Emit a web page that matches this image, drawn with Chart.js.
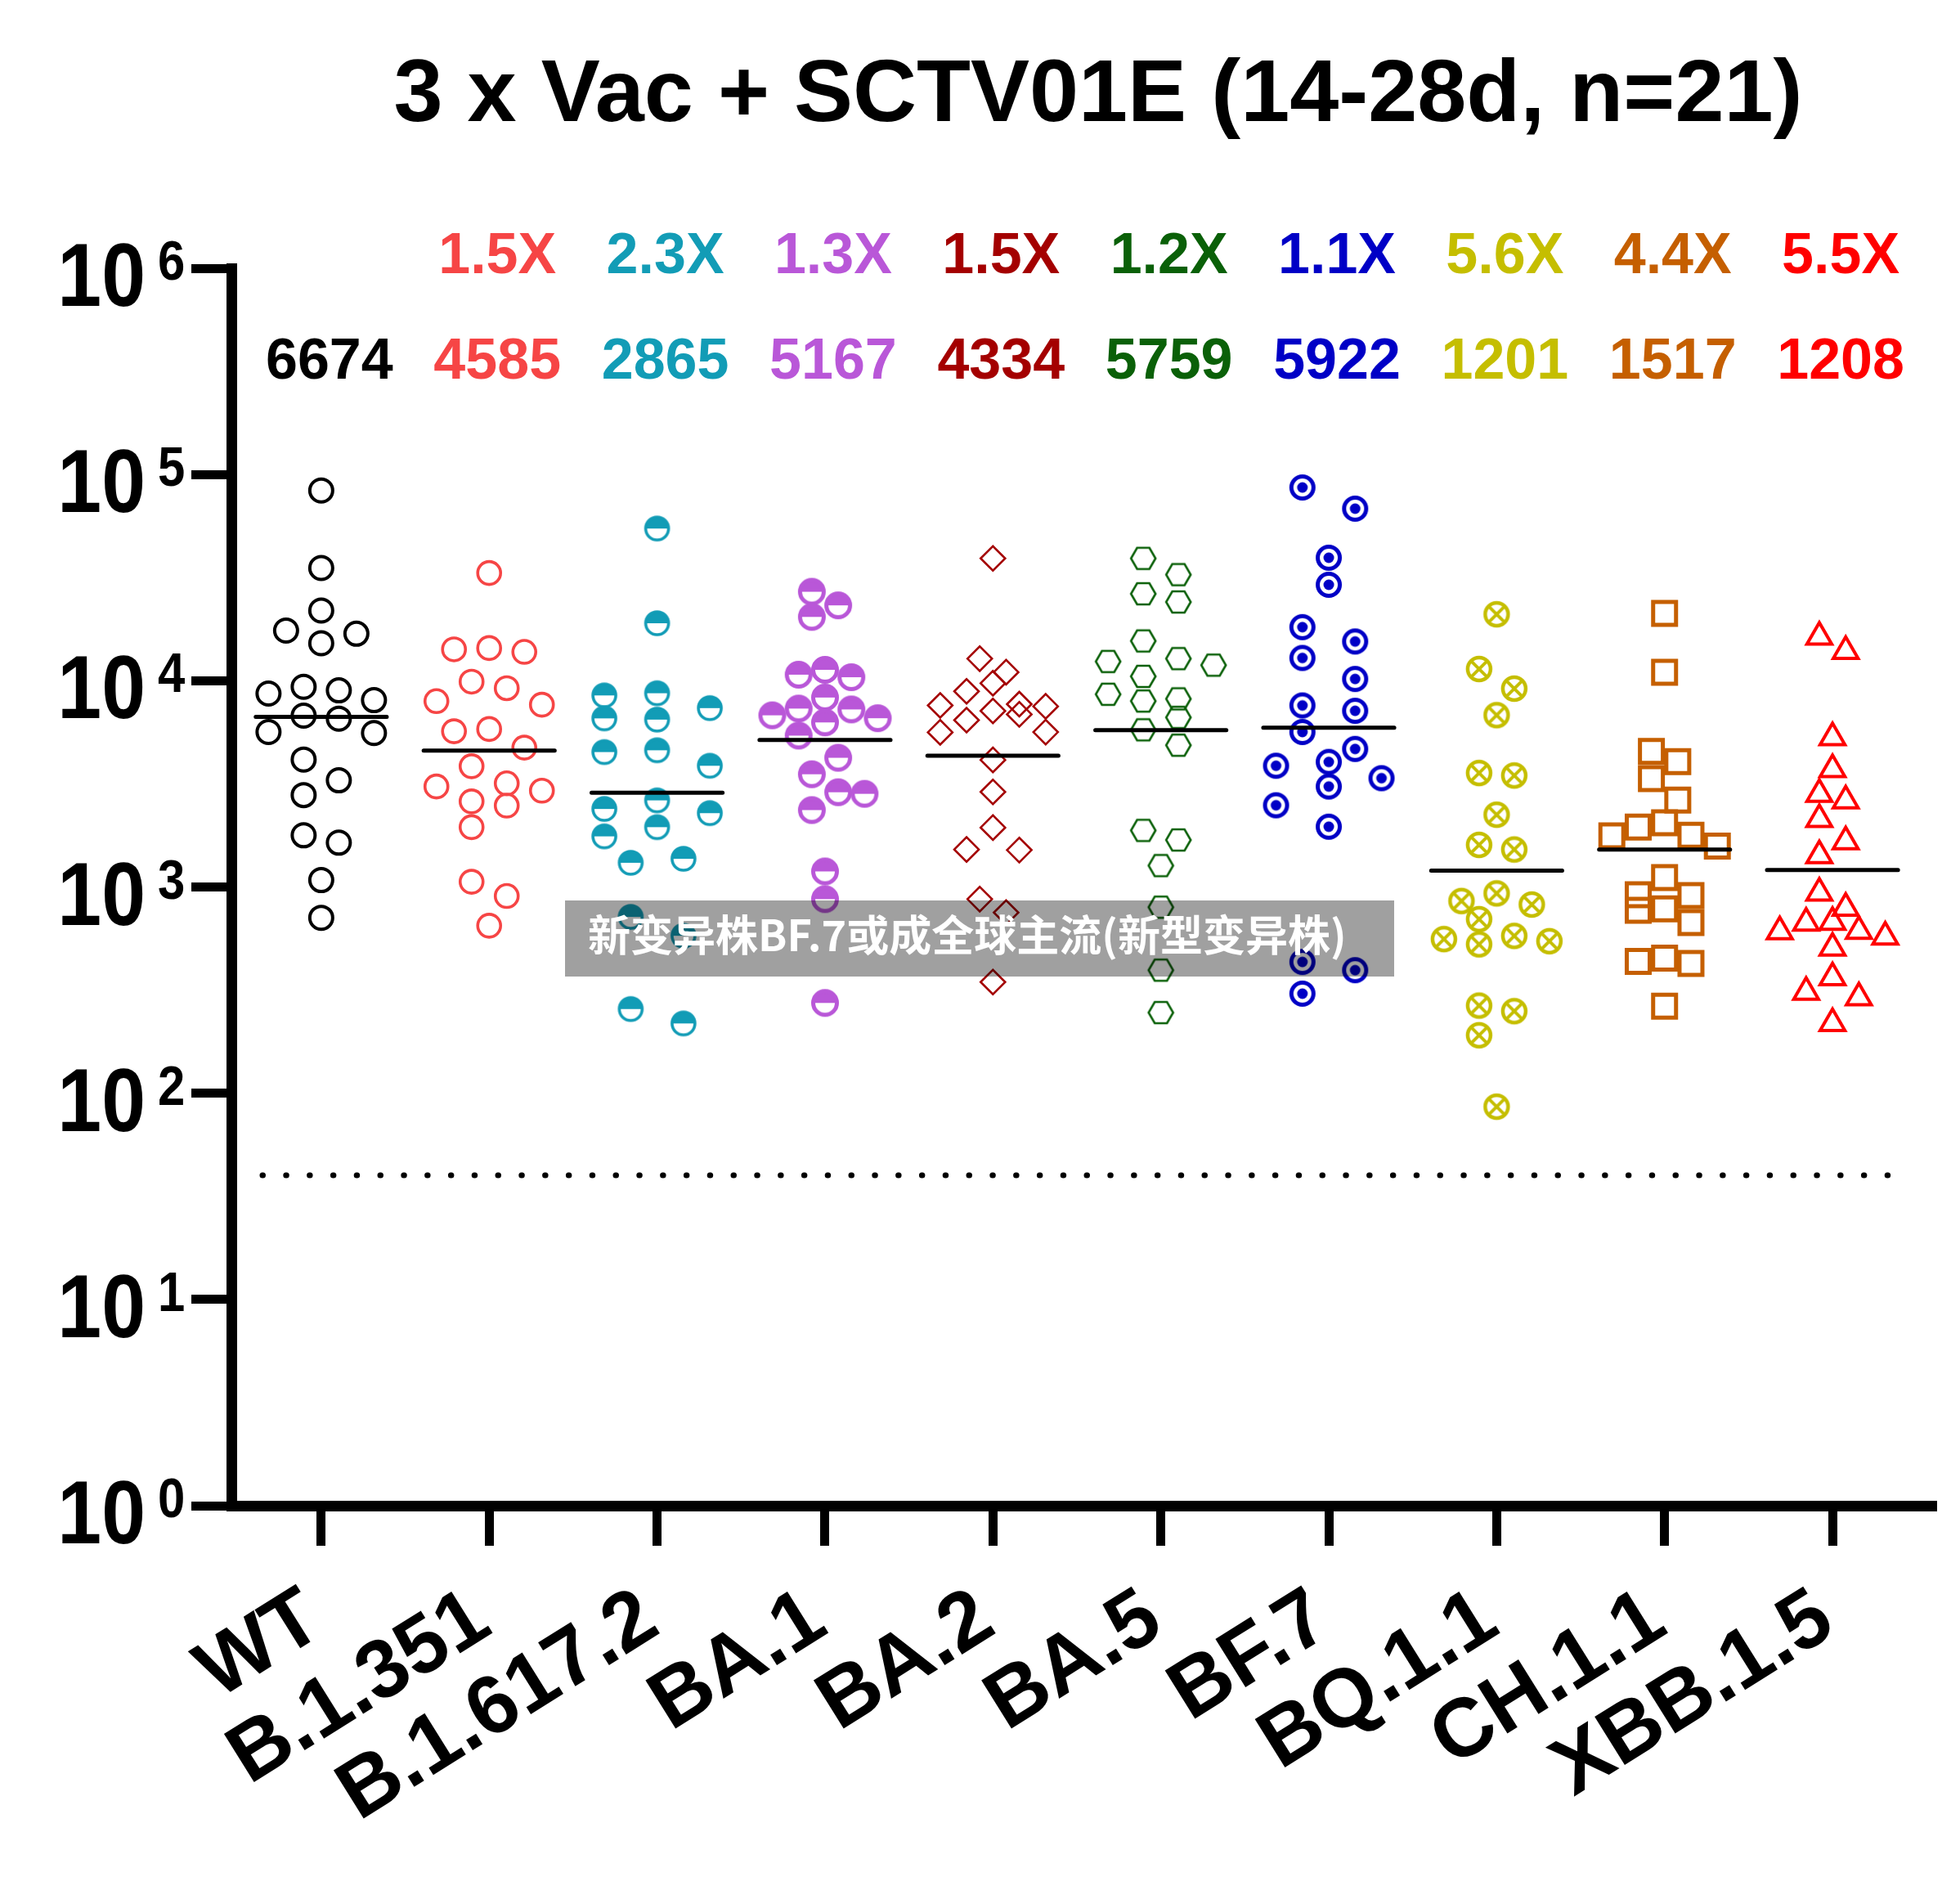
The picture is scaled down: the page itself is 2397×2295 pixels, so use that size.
<!DOCTYPE html>
<html>
<head>
<meta charset="utf-8">
<script src="https://cdn.jsdelivr.net/npm/chart.js@4.4.1/dist/chart.umd.min.js"></script>
<style>html,body{margin:0;padding:0;background:#fff;}canvas{display:block;}</style>
</head>
<body>
<canvas id="c" width="2397" height="2295"></canvas>
<script>
// ---------------- data ----------------
const titleText = '3 x Vac + SCTV01E (14-28d, n=21)';
const categories = ['WT', 'B.1.351', 'B.1.617.2', 'BA.1', 'BA.2', 'BA.5', 'BF.7', 'BQ.1.1', 'CH.1.1', 'XBB.1.5'];
const gmtValues = [6674, 4585, 2865, 5167, 4334, 5759, 5922, 1201, 1517, 1208];
const foldLabels = ['', '1.5X', '2.3X', '1.3X', '1.5X', '1.2X', '1.1X', '5.6X', '4.4X', '5.5X'];
const yTickValues = [1, 10, 100, 1000, 10000, 100000, 1000000];
const detectionLimit = 40;
const bannerText = '新变异株BF.7或成全球主流(新型变异株)';

const wt      = [83600, 35200, 21900, 16900, 17500, 15200, 8980, 9340, 8050, 8670, 6770, 6550, 5580, 5640, 4150, 3290, 2790, 1780, 1640, 1080, 709];
const b1351   = [33300, 14400, 14200, 13800, 9900, 9200, 7650, 7960, 5690, 5830, 4740, 3850, 3180, 2930, 3070, 2480, 2600, 1950, 1060, 904, 649];
const b16172  = [54700, 19000, 7370, 8490, 8700, 6480, 6570, 4600, 4510, 3870, 2390, 2630, 2280, 1950, 1760, 1370, 1310, 716, 580, 218, 256];
const ba1     = [27000, 23200, 20400, 10700, 11300, 10400, 6800, 7260, 8290, 7330, 6580, 6280, 5420, 4230, 3520, 2880, 2830, 2360, 1190, 873, 274];
const ba2     = [39200, 12800, 11000, 9720, 8890, 7590, 7510, 7700, 6870, 7140, 6440, 5640, 5620, 4130, 2890, 1940, 1520, 1510, 873, 752, 346];
const ba5     = [39200, 32700, 26400, 24100, 15600, 12800, 12400, 11900, 10500, 8600, 8170, 7970, 6640, 5780, 4870, 1880, 1690, 1270, 798, 395, 246];
const bf7     = [86500, 68300, 39500, 29200, 18200, 15500, 12900, 10200, 7590, 7150, 5640, 4670, 3870, 4040, 3370, 3070, 2490, 1960, 433, 395, 304];
const bq11    = [21000, 11400, 9160, 6810, 3470, 3570, 2240, 1600, 1520, 931, 822, 855, 698, 559, 527, 546, 579, 250, 266, 191, 86];
const ch11    = [21200, 11000, 4540, 4050, 3350, 2640, 2050, 1950, 1770, 1780, 1580, 1110, 917, 908, 784, 771, 672, 452, 426, 436, 264];
const xbb15   = [16300, 13900, 5310, 3720, 2820, 2620, 2130, 1660, 1420, 936, 791, 669, 675, 608, 611, 573, 507, 364, 309, 291, 218];

const groupValues = [wt, b1351, b16172, ba1, ba2, ba5, bf7, bq11, ch11, xbb15];
const groupColors = ['#000000', '#F64545', '#129CB6', '#B957D8', '#A40000', '#0A6008', '#0000C6', '#C5BE00', '#C55F00', '#FF0000'];

// ---------------- marker images ----------------
function marker(size, draw) {
  const c = document.createElement('canvas');
  c.width = size; c.height = size;
  const g = c.getContext('2d');
  draw(g, size / 2);
  return c;
}
function halfCircle(color, r, lw) {
  return marker(40, (g, c) => {
    g.fillStyle = color; g.strokeStyle = color; g.lineWidth = lw;
    g.beginPath(); g.arc(c, c, r, Math.PI, 0); g.closePath(); g.fill();
    g.fillStyle = '#fff';
    g.beginPath(); g.arc(c, c + 1.5, r - lw / 2, 0, Math.PI); g.closePath(); g.fill();
    g.beginPath(); g.arc(c, c, r, 0, Math.PI * 2); g.stroke();
  });
}
function bullseye(color) {
  return marker(40, (g, c) => {
    g.strokeStyle = color; g.fillStyle = color; g.lineWidth = 5;
    g.beginPath(); g.arc(c, c, 13.5, 0, Math.PI * 2); g.stroke();
    g.beginPath(); g.arc(c, c, 6.5, 0, Math.PI * 2); g.fill();
  });
}
function crossCircle(color) {
  return marker(40, (g, c) => {
    g.strokeStyle = color; g.lineWidth = 4.5;
    g.beginPath(); g.arc(c, c, 14, 0, Math.PI * 2); g.stroke();
    g.lineWidth = 4;
    const d = 14 * Math.SQRT1_2;
    g.beginPath(); g.moveTo(c - d, c - d); g.lineTo(c + d, c + d);
    g.moveTo(c + d, c - d); g.lineTo(c - d, c + d); g.stroke();
  });
}
function hexagon(color) {
  return marker(40, (g, c) => {
    g.strokeStyle = color; g.lineWidth = 2.6;
    g.beginPath();
    for (let k = 0; k < 6; k++) {
      const a = k * Math.PI / 3;
      const x = c + 15 * Math.cos(a), y = c + 15 * Math.sin(a);
      if (k === 0) g.moveTo(x, y); else g.lineTo(x, y);
    }
    g.closePath(); g.stroke();
  });
}

const styles = [
  { pointStyle: 'circle', pointRadius: 14, pointBorderWidth: 4 },
  { pointStyle: 'circle', pointRadius: 14, pointBorderWidth: 3.6 },
  { pointStyle: halfCircle(groupColors[2], 14, 3.6) },
  { pointStyle: halfCircle(groupColors[3], 14.5, 5) },
  { pointStyle: 'rectRot', pointRadius: 15, pointBorderWidth: 2.6 },
  { pointStyle: hexagon(groupColors[5]) },
  { pointStyle: bullseye(groupColors[6]) },
  { pointStyle: crossCircle(groupColors[7]) },
  { pointStyle: 'rect', pointRadius: 19.8, pointBorderWidth: 5 },
  { pointStyle: 'triangle', pointRadius: 17.5, pointBorderWidth: 4 }
];

// ---------------- datasets ----------------
const gmtLineData = [];
gmtValues.forEach((g, i) => {
  gmtLineData.push({ x: i - 0.39, y: g }, { x: i + 0.39, y: g }, { x: i + 0.5, y: null });
});

const datasets = [
  { type: 'line', label: 'GMT', data: gmtLineData, borderColor: '#000', borderWidth: 5,
    pointRadius: 0, spanGaps: false, borderCapStyle: 'round' }
];
groupValues.forEach((vals, i) => {
  datasets.push(Object.assign({
    type: 'scatter', label: categories[i],
    data: vals.map(v => ({ x: i, y: v })),
    borderColor: groupColors[i], backgroundColor: 'rgba(0,0,0,0)',
    pointBackgroundColor: 'rgba(0,0,0,0)', pointBorderColor: groupColors[i],
    pointRadius: 15, pointBorderWidth: 3, clip: false
  }, styles[i]));
});
datasets.push({ type: 'line', label: 'LOD', data: [{ x: -0.35, y: detectionLimit }, { x: 9.43, y: detectionLimit }],
  borderColor: '#000', borderWidth: 7, borderDash: [0.5, 28.3], borderCapStyle: 'round', pointRadius: 0 });

// ---------------- text plugin ----------------
const FONT = '"Liberation Sans", Arial, Helvetica, sans-serif';
const textPlugin = {
  id: 'texts',
  afterDraw(chart) {
    const ctx = chart.ctx;
    const xs = chart.scales.x, ys = chart.scales.y;
    ctx.save();
    ctx.fillStyle = '#000';
    ctx.textAlign = 'center'; ctx.textBaseline = 'alphabetic';
    ctx.font = 'bold 108px ' + FONT;
    ctx.fillText(titleText, 1343, 148);

    ctx.font = 'bold 70px ' + FONT;
    categories.forEach((c, i) => {
      const x = xs.getPixelForValue(i) + 10;
      ctx.fillStyle = groupColors[i];
      if (foldLabels[i]) ctx.fillText(foldLabels[i], x, 334);
      ctx.fillText(String(gmtValues[i]), x, 463);
    });

    // y tick labels 10^n
    ctx.fillStyle = '#000';
    yTickValues.forEach(v => {
      const y = ys.getPixelForValue(v);
      const e = Math.round(Math.log10(v));
      ctx.save();
      ctx.font = 'bold 110px ' + FONT; ctx.textAlign = 'right';
      ctx.translate(178, y + 46); ctx.scale(0.88, 1);
      ctx.fillText('10', 0, 0);
      ctx.restore();
      ctx.save();
      ctx.font = 'bold 68px ' + FONT; ctx.textAlign = 'left';
      ctx.translate(193, y + 14); ctx.scale(0.88, 1);
      ctx.fillText(String(e), 0, 0);
      ctx.restore();
    });

    // overlay banner
    ctx.fillStyle = 'rgba(0,0,0,0.372)';
    ctx.fillRect(691, 1101, 1014, 93);
    ctx.fillStyle = '#fff';
    ctx.textAlign = 'left';
    ctx.font = 'bold 52px "Noto Sans CJK SC", sans-serif';
    ctx.fillText(bannerText, 719, 1163);
    ctx.restore();
  }
};

// ---------------- chart ----------------
const chart = new Chart(document.getElementById('c').getContext('2d'), {
  type: 'scatter',
  data: { datasets },
  options: {
    responsive: false, animation: false, devicePixelRatio: 1,
    layout: { padding: { left: 0, right: 29, top: 328, bottom: 0 } },
    plugins: { legend: { display: false }, tooltip: { enabled: false }, title: { display: false } },
    scales: {
      x: {
        type: 'linear', position: 'bottom', min: -0.535, max: 9.618,
        afterBuildTicks: s => { s.ticks = categories.map((_, i) => ({ value: i })); },
        afterFit: s => { s.height = 454; },
        ticks: {
          autoSkip: false, minRotation: 32, maxRotation: 32, padding: 30, labelOffset: -8,
          color: '#000', font: { family: FONT, size: 101, weight: 'bold' },
          callback: v => categories[v] !== undefined ? categories[v] : ''
        },
        grid: { drawOnChartArea: false, drawTicks: true, tickLength: 49, tickWidth: 11, tickColor: '#000' },
        border: { display: true, width: 13, color: '#000' }
      },
      y: {
        type: 'logarithmic', position: 'left', min: 1, max: 1000000,
        afterBuildTicks: s => { s.ticks = yTickValues.map(v => ({ value: v })); },
        afterFit: s => { s.width = 283; },
        ticks: { display: false },
        grid: { drawOnChartArea: false, drawTicks: true, tickLength: 49, tickWidth: 11, tickColor: '#000' },
        border: { display: true, width: 13, color: '#000' }
      }
    }
  },
  plugins: [textPlugin]
});

// ---------------- beeswarm arrangement through the chart's scales ----------------
const ROW_H = 30, SPREAD = 129;
function swarm(values, gi) {
  const xs = chart.scales.x, ys = chart.scales.y;
  const pts = values.map((v, k) => ({ v, k, py: ys.getPixelForValue(v) })).sort((a, b) => a.py - b.py);
  const rows = [];
  let cur = null;
  pts.forEach(p => {
    if (!cur || p.py - cur[0].py >= ROW_H) { cur = [p]; rows.push(cur); } else cur.push(p);
  });
  const nmax = Math.max(...rows.map(r => r.length));
  const s = nmax > 1 ? Math.min(64.5, SPREAD / (nmax - 1)) : 0;
  const half = SPREAD / 2 + 1;
  const placed = [];
  rows.forEach(row => {
    const n = row.length;
    const base = [];
    for (let j = 0; j < n; j++) base.push((j - (n - 1) / 2) * s);
    const orderA = base.slice().sort((a, b) => Math.abs(a) - Math.abs(b) || a - b);
    const orderB = base.slice().sort((a, b) => Math.abs(a) - Math.abs(b) || b - a);
    let best = null;
    for (const shift of [0, -s / 2, s / 2]) {
      for (const ord of [orderA, orderB]) {
        if (ord.some(o => Math.abs(o + shift) > half)) continue;
        let coll = 0;
        row.forEach((p, j) => {
          const ox = ord[j] + shift;
          placed.forEach(q => { if (Math.abs(q.ox - ox) < s * 0.99 && Math.abs(q.py - p.py) < ROW_H) coll++; });
        });
        if (!best || coll < best.coll) best = { shift, ord, coll };
      }
      if (best && best.coll === 0) break;
    }
    row.forEach((p, j) => { p.ox = best.ord[j] + best.shift; placed.push(p); });
  });
  const px0 = xs.getPixelForValue(gi);
  const byK = {};
  pts.forEach(p => { byK[p.k] = p; });
  return values.map((v, k) => ({ x: xs.getValueForPixel(px0 + byK[k].ox), y: v }));
}
groupValues.forEach((vals, i) => { chart.data.datasets[i + 1].data = swarm(vals, i); });
chart.update('none');
</script>
</body>
</html>
